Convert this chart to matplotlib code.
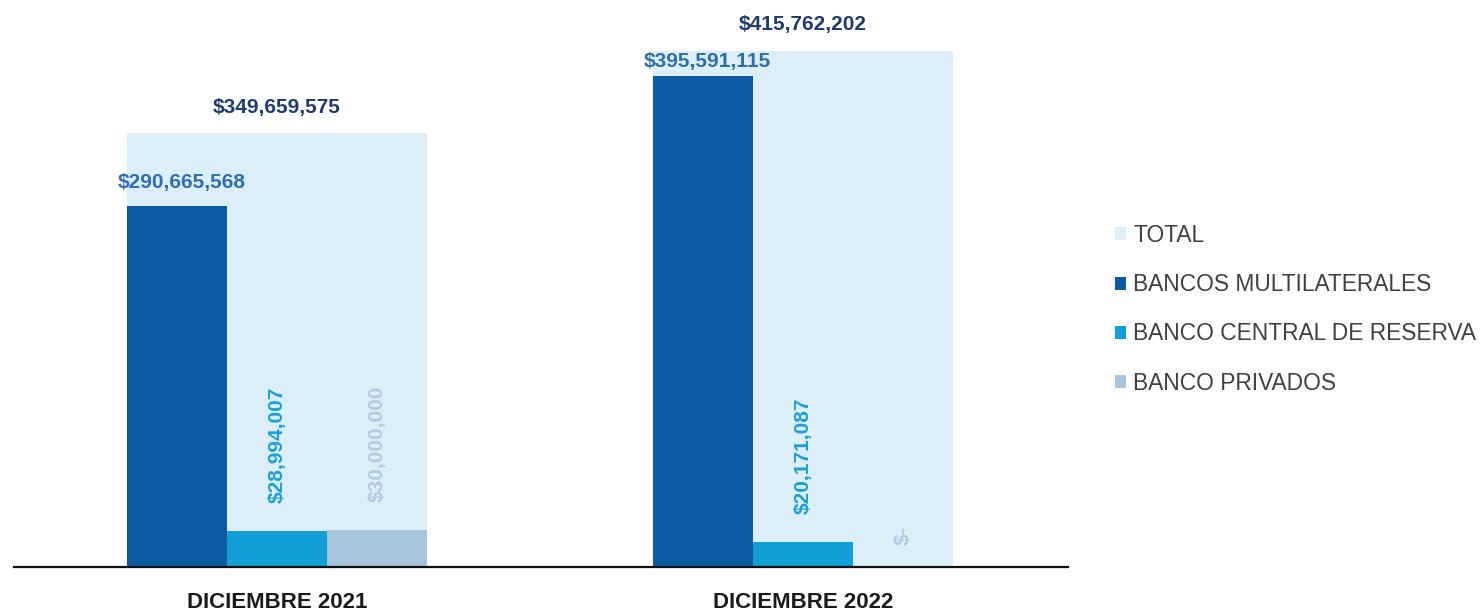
import numpy as np
import matplotlib
matplotlib.use("Agg")
import matplotlib.pyplot as plt

# data
categorias = ["DICIEMBRE 2021", "DICIEMBRE 2022"]
total = [349659575, 415762202]
multilaterales = [290665568, 395591115]
bcr = [28994007, 20171087]
privados = [30000000, 0]
series_names = ["TOTAL", "BANCOS MULTILATERALES", "BANCO CENTRAL DE RESERVA", "BANCO PRIVADOS"]

def money(v):
    if v == 0:
        return "$-"
    return "${:,.0f}".format(v)

c_total = "#DCEEF8"
c_multi = "#0B5AA2"
c_bcr = "#119FD6"
c_priv = "#A8C5DF"

plt.rcParams["font.family"] = ["Liberation Sans", "DejaVu Sans"]

fig = plt.figure(figsize=(14.8, 6.14), dpi=100)
ax = fig.add_axes([14/1480, 47/614, (1068-14)/1480, 567/614])

x = np.arange(len(categorias))
w = 0.19
M = 1e6

tot = np.array(total)/M
mul = np.array(multilaterales)/M
bc = np.array(bcr)/M
pr = np.array(privados)/M

b_tot = ax.bar(x, tot, width=3*w, color=c_total, zorder=1)
b_mul = ax.bar(x - w, mul, width=w, color=c_multi, zorder=2)
b_bcr = ax.bar(x, bc, width=w, color=c_bcr, zorder=2)
b_pri = ax.bar(x + w, pr, width=w, color=c_priv, zorder=2)

# labels
multi_off = [10, 4]  # points above bar
for i in range(len(categorias)):
    ax.annotate(money(total[i]), (x[i], tot[i]), xytext=(0, 12), textcoords="offset points",
                ha="center", va="bottom", fontsize=15, fontweight="bold", color="#1F3A6E", zorder=5)
    ax.annotate(money(multilaterales[i]), (x[i]-w, mul[i]), xytext=(3, multi_off[i]), textcoords="offset points",
                ha="center", va="bottom", fontsize=15, fontweight="bold", color="#2D6FB0", zorder=5)
    ax.annotate(money(bcr[i]), (x[i], bc[i]), xytext=(0, 20), textcoords="offset points",
                ha="center", va="bottom", rotation=90, fontsize=15, fontweight="bold", color="#1BA0D8", zorder=5)
    ax.annotate(money(privados[i]), (x[i]+w, pr[i]), xytext=(0, 20 if privados[i] else 16), textcoords="offset points",
                ha="center", va="bottom", rotation=90, fontsize=15, fontweight="bold", color="#B3CBE2", zorder=5)

ax.set_xlim(-0.5, 1.504)
ax.set_ylim(0, 457)
ax.set_yticks([])
ax.set_xticks(x)
ax.set_xticklabels(categorias, fontsize=16, fontweight="bold", color="#1A1A1A")
ax.tick_params(axis="x", length=0, pad=18)
for s in ["top", "right", "left"]:
    ax.spines[s].set_visible(False)
ax.spines["bottom"].set_linewidth(1.6)
ax.spines["bottom"].set_color("#111111")

leg = fig.legend([b_tot, b_mul, b_bcr, b_pri], series_names, loc="upper left",
                 bbox_to_anchor=(1115/1480, 1 - 224/614), frameon=False, fontsize=16.4,
                 handlelength=0.5, handleheight=0.5, handletextpad=0.3, labelspacing=1.15,
                 borderaxespad=0, borderpad=0)
for t in leg.get_texts():
    t.set_color("#404040")

fig.savefig("out.png", dpi=100)
